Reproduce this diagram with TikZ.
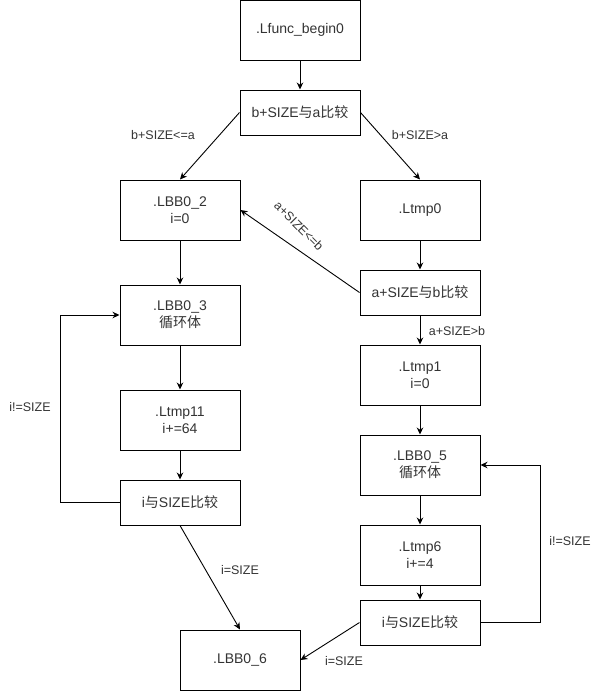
\documentclass[tikz,border=0pt]{standalone}
\usepackage{fontspec}
\setmainfont{Liberation Sans}
\newfontfamily\cjk{Noto Sans CJK SC}
\newcommand{\zh}[1]{{\cjk #1}}
\usetikzlibrary{arrows.meta}
\begin{document}
\begin{tikzpicture}[x=1pt,y=-1pt,
  box/.style={draw=black,line width=1pt,minimum width=120pt,minimum height=60pt,inner sep=0pt,align=center,font=\fontsize{14}{17}\selectfont,text=black!80},
  cmp/.style={box,minimum height=45pt},
  conn/.style={draw=black,line width=0.9pt,-{Stealth[length=7pt,width=6.5pt]}},
  lbl/.style={font=\fontsize{12.5}{15}\selectfont,text=black!80,inner sep=0pt}]
\useasboundingbox (0,0) rectangle (600,691);
\node[box] (f0) at (300,30) {.Lfunc\_begin0};
\node[cmp] (c1) at (300,112.5) {b+SIZE\zh{与}a\zh{比较}};
\node[box] (lbb2) at (180,210) {.LBB0\_2\\i=0};
\node[box] (ltmp0) at (420,210) {.Ltmp0};
\node[cmp] (c2) at (420,292.5) {a+SIZE\zh{与}b\zh{比较}};
\node[box] (lbb3) at (180,315) {.LBB0\_3\\\zh{循环体}};
\node[box] (ltmp1) at (420,375) {.Ltmp1\\i=0};
\node[box] (ltmp11) at (180,420) {.Ltmp11\\i+=64};
\node[box] (lbb5) at (420,465) {.LBB0\_5\\\zh{循环体}};
\node[cmp] (c3) at (180,502.5) {i\zh{与}SIZE\zh{比较}};
\node[box] (ltmp6) at (420,555) {.Ltmp6\\i+=4};
\node[cmp] (c4) at (420,622.5) {i\zh{与}SIZE\zh{比较}};
\node[box] (lbb6) at (240,660) {.LBB0\_6};
\coordinate (l1) at (60,502.5);
\coordinate (r1) at (540,622.5);
% labels
\node[lbl] (t1) at (163,135) {b+SIZE<=a};
\node[lbl] (t2) at (420,135) {b+SIZE>a};
\node[lbl,rotate=-45] (t3) at (299,226) {a+SIZE<=b};
\node[lbl] (t4) at (457,331) {a+SIZE>b};
\node[lbl] (t5) at (30,407) {i!=SIZE};
\node[lbl] (t6) at (240,570) {i=SIZE};
\node[lbl] (t7) at (570,541) {i!=SIZE};
\node[lbl] (t8) at (344,661) {i=SIZE};
% connectors
\draw[conn] (f0.south) -- (c1.north);
\draw[conn] (c1.west) -- (lbb2.north);
\draw[conn] (c1.east) -- (ltmp0.north);
\draw[conn] (ltmp0.south) -- (c2.north);
\draw[conn] (c2.west) -- (lbb2.east);
\draw[conn] (c2.south) -- (ltmp1.north);
\draw[conn] (lbb2.south) -- (lbb3.north);
\draw[conn] (lbb3.south) -- (ltmp11.north);
\draw[conn] (ltmp11.south) -- (c3.north);
\draw[conn] (c3.west) -- (l1) |- (lbb3.west);
\draw[conn] (c3.south) -- (lbb6.north);
\draw[conn] (ltmp1.south) -- (lbb5.north);
\draw[conn] (lbb5.south) -- (ltmp6.north);
\draw[conn] (ltmp6.south) -- (c4.north);
\draw[conn] (c4.east) -- (r1) |- (lbb5.east);
\draw[conn] (c4.west) -- (lbb6.east);
\end{tikzpicture}
\end{document}
